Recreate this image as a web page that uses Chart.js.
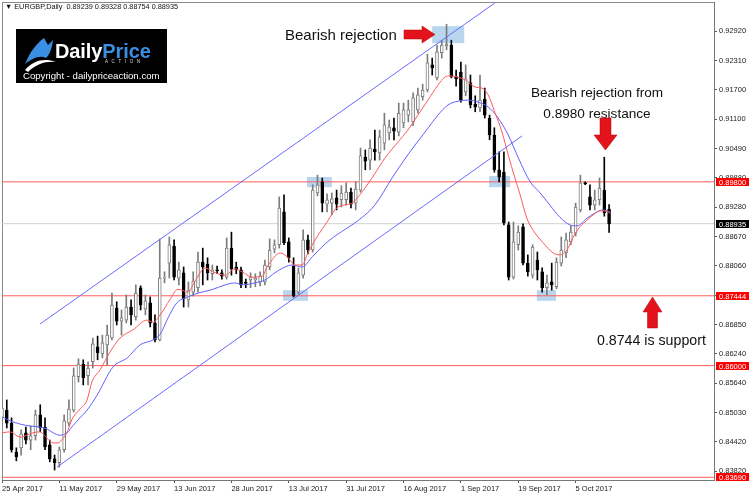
<!DOCTYPE html>
<html>
<head>
<meta charset="utf-8">
<title>EURGBP Daily</title>
<script src="https://cdn.jsdelivr.net/npm/chart.js@4/dist/chart.umd.min.js"></script>
<style>
  body { margin: 0; background: #fff; }
  #wrap { position: relative; width: 750px; height: 496px; overflow: hidden; font-family: "Liberation Sans", Arial, sans-serif; }
  #chart { position: absolute; left: 0; top: 0; }
  .note { position: absolute; color: #111; line-height: 1; white-space: nowrap; }
  #header { position: absolute; left: 5px; top: 3px; font-size: 7.3px; line-height: 1; color: #111; white-space: nowrap; }
  #logo { position: absolute; left: 16px; top: 29px; width: 151px; height: 54px; background: #000; }
  #logo .brand { position: absolute; left: 39px; top: 12px; font-weight: bold; font-size: 20px; line-height: 1; color: #fff; letter-spacing: -0.1px; }
  #logo .brand span { color: #3b8fe3; }
  #logo .action { position: absolute; left: 89px; top: 31px; font-size: 4.5px; line-height: 1; color: #ddd; letter-spacing: 3.6px; }
  #logo .copy { position: absolute; left: 7px; top: 42px; font-size: 9.6px; line-height: 1; color: #fff; }
  #arrows { position: absolute; left: 0; top: 0; }
</style>
</head>
<body>
<div id="wrap">
  <canvas id="chart" width="750" height="496"></canvas>

  <div id="header">&#9660; EURGBP,Daily&nbsp; 0.89239 0.89328 0.88754 0.88935</div>

  <div id="logo">
    <svg width="40" height="40" style="position:absolute;left:6px;top:7px">
      <path d="M3 28 C8 16 14 8 22 2 L26 9 L31 4 C30 12 28 18 24 22 C18 19 11 22 3 28 Z" fill="#3b8fe3"/>
      <path d="M3 34 C12 24 22 22 34 26 C24 25 14 28 6 36 Z" fill="#fff"/>
    </svg>
    <div class="brand">Daily<span>Price</span></div>
    <div class="action">ACTION</div>
    <div class="copy">Copyright - dailypriceaction.com</div>
  </div>

  <div class="note" style="left:285px; top:27px; font-size:15px;">Bearish rejection</div>
  <div class="note" style="left:497px; width:200px; text-align:center; top:86px; font-size:13.6px;">Bearish rejection from</div>
  <div class="note" style="left:497px; width:200px; text-align:center; top:107px; font-size:13.6px;">0.8980 resistance</div>
  <div class="note" style="left:597px; top:333px; font-size:14.2px;">0.8744 is support</div>

  <svg id="arrows" width="750" height="496">
    <polygon points="404,30 422,30 422,26 435,34.5 422,43 422,39 404,39" fill="#e3131b" stroke="#b00" stroke-width="0.5"/>
    <polygon points="600,118 611,118 611,135 617,135 605.5,150 594,135 600,135" fill="#e3131b" stroke="#b00" stroke-width="0.5"/>
    <polygon points="652.5,297 662,312 657.5,312 657.5,328 647.5,328 647.5,312 643,312" fill="#e3131b" stroke="#b00" stroke-width="0.5"/>
  </svg>
</div>

<script>
// Handelstage (Kategorien der x-Achse)
const dates = [
  "25 Apr 2017","26 Apr 2017","27 Apr 2017","28 Apr 2017","1 May 2017","2 May 2017","3 May 2017","4 May 2017","5 May 2017","8 May 2017",
  "9 May 2017","10 May 2017","11 May 2017","12 May 2017","15 May 2017","16 May 2017","17 May 2017","18 May 2017","19 May 2017","22 May 2017",
  "23 May 2017","24 May 2017","25 May 2017","26 May 2017","29 May 2017","30 May 2017","31 May 2017","1 Jun 2017","2 Jun 2017","4 Jun 2017",
  "5 Jun 2017","6 Jun 2017","7 Jun 2017","8 Jun 2017","9 Jun 2017","12 Jun 2017","13 Jun 2017","14 Jun 2017","15 Jun 2017","16 Jun 2017",
  "18 Jun 2017","19 Jun 2017","20 Jun 2017","21 Jun 2017","22 Jun 2017","23 Jun 2017","26 Jun 2017","27 Jun 2017","28 Jun 2017","29 Jun 2017",
  "30 Jun 2017","2 Jul 2017","3 Jul 2017","4 Jul 2017","5 Jul 2017","6 Jul 2017","7 Jul 2017","10 Jul 2017","11 Jul 2017","12 Jul 2017",
  "13 Jul 2017","14 Jul 2017","17 Jul 2017","18 Jul 2017","19 Jul 2017","20 Jul 2017","21 Jul 2017","24 Jul 2017","25 Jul 2017","26 Jul 2017",
  "27 Jul 2017","28 Jul 2017","31 Jul 2017","1 Aug 2017","2 Aug 2017","3 Aug 2017","4 Aug 2017","7 Aug 2017","8 Aug 2017","9 Aug 2017",
  "10 Aug 2017","11 Aug 2017","14 Aug 2017","15 Aug 2017","16 Aug 2017","17 Aug 2017","18 Aug 2017","21 Aug 2017","22 Aug 2017","23 Aug 2017",
  "24 Aug 2017","25 Aug 2017","28 Aug 2017","29 Aug 2017","30 Aug 2017","31 Aug 2017","1 Sep 2017","4 Sep 2017","5 Sep 2017","6 Sep 2017",
  "7 Sep 2017","8 Sep 2017","11 Sep 2017","12 Sep 2017","13 Sep 2017","14 Sep 2017","15 Sep 2017","18 Sep 2017","19 Sep 2017","20 Sep 2017",
  "21 Sep 2017","22 Sep 2017","25 Sep 2017","26 Sep 2017","27 Sep 2017","28 Sep 2017","29 Sep 2017","2 Oct 2017","3 Oct 2017","4 Oct 2017",
  "5 Oct 2017","6 Oct 2017","9 Oct 2017","10 Oct 2017","11 Oct 2017","12 Oct 2017","13 Oct 2017","16 Oct 2017"
];

// Kerzen (Open / High / Low / Close)
const opens = [
  .8492,.8508,.8481,.8421,.8430,.8461,.8446,.8455,.8498,.8473,
  .8436,.8407,.8399,.8426,.8481,.8508,.8577,.8603,.8579,.8608,
  .8639,.8624,.8643,.8657,.8719,.8692,.8694,.8721,.8701,.8761,
  .8717,.8730,.8688,.8653,.8781,.8812,.8847,.8781,.8792,.8736,
  .8752,.8761,.8814,.8810,.8790,.8798,.8792,.8783,.8843,.8804,
  .8798,.8771,.8777,.8777,.8773,.8773,.8804,.8841,.8850,.8918,
  .8856,.8806,.8752,.8787,.8860,.8839,.8957,.8980,.8934,.8936,
  .8947,.8943,.8943,.8959,.8936,.8963,.9031,.9025,.9048,.9040,
  .9060,.9081,.9092,.9083,.9102,.9118,.9104,.9129,.9156,.9170,
  .9222,.9195,.9247,.9261,.9263,.9197,.9207,.9166,.9185,.9141,
  .9133,.9151,.9112,.9077,.9005,.9000,.8891,.8783,.8850,.8887,
  .8812,.8787,.8818,.8794,.8761,.8773,.8763,.8812,.8833,.8856,
  .8874,.8922,.8978,.8949,.8932,.8943,.8963,.89239
];
const highs = [
  .8531,.8529,.8492,.8430,.8467,.8473,.8475,.8508,.8519,.8492,
  .8446,.8415,.8432,.8498,.8529,.8595,.8614,.8612,.8608,.8657,
  .8661,.8663,.8684,.8750,.8732,.8715,.8746,.8736,.8767,.8765,
  .8746,.8742,.8705,.8862,.8794,.8866,.8860,.8814,.8804,.8773,
  .8794,.8835,.8843,.8823,.8808,.8806,.8798,.8864,.8876,.8814,
  .8804,.8779,.8792,.8790,.8794,.8818,.8862,.8860,.8949,.8953,
  .8864,.8823,.8802,.8881,.8870,.8974,.8994,.8988,.8955,.8957,
  .8963,.8972,.8978,.8967,.8980,.9050,.9046,.9067,.9087,.9087,
  .9122,.9108,.9112,.9143,.9143,.9149,.9164,.9174,.9182,.9244,
  .9236,.9263,.9273,.9306,.9273,.9211,.9228,.9222,.9201,.9158,
  .9201,.9174,.9118,.9092,.9042,.9042,.8897,.8897,.8889,.8893,
  .8829,.8850,.8835,.8802,.8787,.8812,.8823,.8866,.8874,.8889,
  .8936,.8994,.8980,.8974,.8963,.8988,.9031,.89328
];
const lows = [
  .8486,.8471,.8421,.8403,.8415,.8438,.8426,.8446,.8463,.8426,
  .8401,.8384,.8390,.8421,.8475,.8504,.8566,.8560,.8560,.8595,
  .8612,.8616,.8601,.8653,.8684,.8663,.8688,.8684,.8694,.8715,
  .8705,.8680,.8649,.8651,.8771,.8781,.8777,.8767,.8721,.8721,
  .8744,.8752,.8767,.8777,.8777,.8790,.8779,.8779,.8787,.8790,
  .8761,.8761,.8761,.8763,.8765,.8767,.8798,.8833,.8843,.8850,
  .8814,.8742,.8748,.8781,.8831,.8835,.8951,.8918,.8918,.8912,
  .8922,.8928,.8932,.8926,.8922,.8959,.9005,.9005,.9025,.9025,
  .9046,.9067,.9067,.9075,.9092,.9104,.9096,.9122,.9149,.9166,
  .9201,.9191,.9236,.9253,.9195,.9178,.9145,.9158,.9133,.9125,
  .9125,.9112,.9067,.9000,.8980,.8891,.8777,.8779,.8839,.8808,
  .8785,.8781,.8777,.8752,.8746,.8756,.8759,.8806,.8823,.8850,
  .8868,.8918,.8974,.8922,.8922,.8932,.8909,.88754
];
const closes = [
  .8512,.8481,.8426,.8411,.8459,.8446,.8455,.8498,.8471,.8432,
  .8407,.8399,.8426,.8486,.8510,.8579,.8603,.8575,.8595,.8645,
  .8626,.8647,.8663,.8725,.8692,.8699,.8721,.8705,.8750,.8725,
  .8734,.8688,.8653,.8781,.8783,.8850,.8783,.8798,.8738,.8756,
  .8775,.8814,.8804,.8792,.8798,.8796,.8785,.8843,.8800,.8798,
  .8767,.8770,.8783,.8781,.8785,.8808,.8839,.8850,.8926,.8854,
  .8823,.8744,.8792,.8860,.8839,.8963,.8974,.8936,.8943,.8945,
  .8934,.8957,.8959,.8934,.8965,.9034,.9023,.9050,.9042,.9073,
  .9098,.9094,.9085,.9122,.9129,.9129,.9154,.9160,.9170,.9226,
  .9216,.9249,.9263,.9265,.9197,.9193,.9149,.9193,.9139,.9135,
  .9149,.9118,.9077,.9005,.8990,.8895,.8783,.8856,.8876,.8812,
  .8794,.8845,.8798,.8761,.8771,.8767,.8814,.8839,.8860,.8876,
  .8928,.8978,.8976,.8932,.8943,.8967,.8916,.88935
];

const fastMA = [
  [0,.8461],[1.7,.8463],[3.8,.8452],[5.2,.8456],[6.5,.8461],[7.9,.8463],[9.4,.8450],[10.7,.8440],[11.7,.8440],[12.8,.8450],
  [13.6,.8461],[14.6,.8488],[16.3,.8510],[17.8,.8529],[18.8,.8566],[20.5,.8591],[22.6,.8628],[24.7,.8657],[27.4,.8674],[30.3,.8694],
  [31.6,.8690],[33.1,.8705],[35.1,.8736],[36.8,.8758],[38.9,.8752],[40.4,.8775],[42.5,.8802],[44.1,.8794],[46.7,.8787],[48.7,.8800],
  [50.2,.8794],[52.3,.8783],[54.4,.8785],[55.6,.8806],[58.2,.8833],[59.8,.8824],[61.3,.8808],[62.8,.8808],[64.0,.8833],[65.5,.8860],
  [67.6,.8891],[70.3,.8928],[73.2,.8936],[75.3,.8959],[77.4,.8988],[80.1,.9029],[82.8,.9062],[84.9,.9087],[87.0,.9118],[89.1,.9149],
  [91.2,.9180],[92.7,.9197],[93.7,.9199],[95.2,.9197],[96.9,.9191],[99.0,.9176],[100.4,.9174],[101.7,.9160],[103.1,.9124],[104.6,.9083],
  [105.9,.9036],[107.3,.8988],[108.4,.8953],[109.8,.8905],[111.1,.8880],[113.2,.8854],[115.3,.8833],[116.7,.8829],[118.2,.8839],[119.5,.8866],
  [120.9,.8887],[122.4,.8901],[123.6,.8911],[125.1,.8920],[126.1,.8920],[127.2,.8915]
];
const slowMA = [
  [0,.8494],[1.7,.8486],[3.8,.8479],[5.9,.8475],[7.9,.8473],[9.4,.8469],[10.7,.8461],[12.1,.8456],[13.6,.8461],[14.6,.8473],
  [16.3,.8492],[17.8,.8508],[19.9,.8539],[23.2,.8597],[26.2,.8616],[28.9,.8643],[31.6,.8653],[33.1,.8665],[34.8,.8700],[36.6,.8730],[38.9,.8742],
  [41.0,.8750],[43.9,.8757],[46.7,.8767],[48.7,.8771],[50.4,.8767],[52.9,.8771],[55.0,.8777],[57.1,.8792],[59.2,.8804],[60.7,.8808],
  [62.8,.8804],[64.9,.8825],[66.9,.8845],[68.6,.8860],[71.8,.8882],[73.8,.8895],[78.0,.8932],[81.6,.8988],[84.9,.9036],[88.5,.9083],
  [91.2,.9118],[93.3,.9139],[95.4,.9147],[97.5,.9149],[99.6,.9145],[101.7,.9135],[103.8,.9112],[105.9,.9077],[108.0,.9030],[110.5,.8980],
  [112.6,.8957],[114.6,.8932],[116.7,.8907],[118.8,.8891],[120.3,.8889],[122.4,.8905],[124.5,.8918],[125.7,.8922],[127.2,.8918]
];

// Trendkanal (Start- und Endpunkt je Linie)
const upperChannel = [[7.95,.8686],[103.1,.9350]];
const lowerChannel = [[11.5,.8390],[108.8,.9075]];

// Horizontale Marken
const redLevels = [0.89800, 0.87444, 0.86000, 0.83690];
const lastPrice = 0.88935;

// markierte Zonen [von Index, bis Index, Kurs oben, Kurs unten]
const zones = [
  [90.0, 96.7, .9302, .9267],
  [63.8, 69.0, .8990, .8969],
  [58.8, 64.0, .8756, .8734],
  [101.9, 106.3, .8992, .8969],
  [111.9, 115.9, .8756, .8734]
];

// Achsenbeschriftungen
const yTicks = [0.92920,0.92310,0.91700,0.91100,0.90490,0.89880,0.89280,0.88670,0.88060,0.87450,0.86850,0.86240,0.85640,0.85030,0.84420,0.83820];
const xTicks = [0,12,24,36,48,60,72,84,96,108,120];

const X_MAX = 148.95;
const Y_MIN = 0.83634, Y_MAX = 0.93520;

const isBull = i => closes[i] >= opens[i];
const pts = arr => arr.map(p => ({x: p[0], y: p[1]}));
const levelLine = v => [{x: 0, y: v}, {x: X_MAX, y: v}];
const tickFont = {family: '"Liberation Sans", Arial, sans-serif', size: 7.5};

// Rahmen um den Zeichenbereich
const framePlugin = {
  id: 'frame',
  beforeDraw(chart) {
    const {ctx, chartArea: a} = chart;
    ctx.save();
    ctx.fillStyle = '#fff';
    ctx.fillRect(0, 0, chart.width, chart.height);
    ctx.strokeStyle = '#8a8a8a';
    ctx.lineWidth = 1;
    ctx.strokeRect(a.left + 0.5, a.top + 0.5, a.width, a.height);
    ctx.restore();
  }
};

// hellblaue Markierungen hinter den Kerzen
const zonePlugin = {
  id: 'zones',
  beforeDatasetsDraw(chart) {
    const {ctx, chartArea: a, scales: {x, y}} = chart;
    ctx.save();
    ctx.beginPath();
    ctx.rect(a.left, a.top, a.width, a.height);
    ctx.clip();
    ctx.fillStyle = '#b8d6ee';
    zones.forEach(z => {
      const x0 = x.getPixelForValue(z[0]), x1 = x.getPixelForValue(z[1]);
      const y0 = y.getPixelForValue(z[2]), y1 = y.getPixelForValue(z[3]);
      ctx.fillRect(x0, y0, x1 - x0, y1 - y0);
    });
    ctx.restore();
  }
};

// Preisschilder an der rechten Achse
const tagPlugin = {
  id: 'tags',
  afterDraw(chart) {
    const {ctx, chartArea: a, scales: {y}} = chart;
    ctx.save();
    ctx.font = '7.5px "Liberation Sans", Arial, sans-serif';
    ctx.textBaseline = 'middle';
    const tag = (v, bg) => {
      const py = Math.round(y.getPixelForValue(v));
      ctx.fillStyle = bg;
      ctx.fillRect(a.right + 2, py - 4, chart.width - a.right - 3, 8);
      ctx.fillStyle = '#fff';
      ctx.fillText(v.toFixed(5), a.right + 5, py + 0.5);
    };
    redLevels.forEach(v => tag(v, '#ff0000'));
    tag(lastPrice, '#000');
    ctx.restore();
  }
};

const lineDefaults = {type: 'line', borderWidth: 1, pointRadius: 0, fill: false};

new Chart(document.getElementById('chart'), {
  type: 'bar',
  data: {
    datasets: [
      // horizontale Linien
      ...redLevels.map(v => Object.assign({}, lineDefaults, {data: levelLine(v), borderColor: '#ff5c5c', order: 20})),
      Object.assign({}, lineDefaults, {data: levelLine(lastPrice), borderColor: '#d0d0d0', order: 20}),
      // Dochte
      {
        type: 'bar', grouped: false, order: 10,
        data: dates.map((d, i) => ({x: i, y: [lows[i], highs[i]]})),
        barThickness: 1, borderWidth: 0,
        backgroundColor: dates.map((d, i) => isBull(i) ? '#7c7c7c' : '#000')
      },
      // Kerzenkörper
      {
        type: 'bar', grouped: false, order: 9,
        data: dates.map((d, i) => ({x: i, y: [opens[i], closes[i]]})),
        barThickness: 3, borderWidth: 1, borderSkipped: false, minBarLength: 1,
        backgroundColor: dates.map((d, i) => isBull(i) ? '#fff' : '#000'),
        borderColor: dates.map((d, i) => isBull(i) ? '#7c7c7c' : '#000')
      },
      // Durchschnitte
      Object.assign({}, lineDefaults, {data: pts(slowMA), borderColor: '#6262ff', cubicInterpolationMode: 'monotone', order: 3}),
      Object.assign({}, lineDefaults, {data: pts(fastMA), borderColor: '#ff5a5a', cubicInterpolationMode: 'monotone', order: 2}),
      // Kanal
      Object.assign({}, lineDefaults, {data: pts(upperChannel), borderColor: '#6a6aff', order: 1}),
      Object.assign({}, lineDefaults, {data: pts(lowerChannel), borderColor: '#6a6aff', order: 1})
    ]
  },
  options: {
    responsive: false,
    animation: false,
    devicePixelRatio: 1,
    layout: {padding: {left: 2, top: 2, right: 0, bottom: 0}},
    plugins: {legend: {display: false}, tooltip: {enabled: false}},
    scales: {
      x: {
        type: 'linear', min: 0, max: X_MAX, offset: false,
        afterBuildTicks: s => { s.ticks = xTicks.map(v => ({value: v})); },
        afterFit: s => { s.height = 16; s.paddingLeft = 0; s.paddingRight = 0; },
        grid: {drawOnChartArea: false, drawTicks: true, tickLength: 3, color: '#555', offset: false},
        border: {display: true, color: '#777'},
        ticks: {autoSkip: false, maxRotation: 0, minRotation: 0, align: 'start', padding: 1, color: '#222', font: tickFont,
                callback: v => dates[v]}
      },
      y: {
        position: 'right', min: Y_MIN, max: Y_MAX,
        afterBuildTicks: s => { s.ticks = yTicks.map(v => ({value: v})); },
        afterFit: s => { s.width = 36; s.paddingTop = 0; s.paddingBottom = 0; },
        grid: {drawOnChartArea: false, drawTicks: true, tickLength: 3, color: '#555'},
        border: {display: true, color: '#777'},
        ticks: {autoSkip: false, padding: 2, color: '#222', font: tickFont, callback: v => v.toFixed(5)}
      }
    }
  },
  plugins: [framePlugin, zonePlugin, tagPlugin]
});
</script>
</body>
</html>
